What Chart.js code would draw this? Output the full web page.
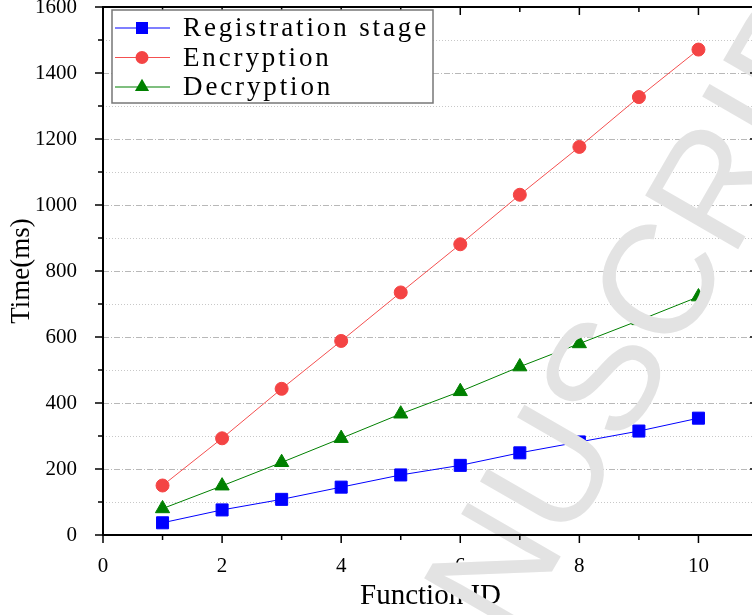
<!DOCTYPE html>
<html>
<head>
<meta charset="utf-8">
<script src="https://cdn.jsdelivr.net/npm/chart.js@4.4.0/dist/chart.umd.min.js"></script>
<style>
html,body{margin:0;padding:0;background:#fff;overflow:hidden}
#wrap{width:762px;height:615px}
</style>
</head>
<body>
<div id="wrap"><canvas id="c" width="762" height="615"></canvas></div>
<script>
// data
const functionIds=[1,2,3,4,5,6,7,8,9,10];
const registration=[37,76,108,145,182,211,249,282,315,354];
const encryption=[150,293,443,588,735,881,1031,1176,1327,1471];
const decryption=[80,149,220,293,367,435,510,580,650,722];
const xTicks=[0,2,4,6,8,10];
const yTicks=[0,200,400,600,800,1000,1200,1400,1600];
const seriesNames=['Registration stage','Encryption','Decryption'];

const pts=arr=>functionIds.map((x,i)=>({x:x,y:arr[i]}));

// grid, frame, ticks, watermark, legend
const decor={
  id:'decor',
  beforeDatasetsDraw(chart){
    const {ctx,chartArea:a,scales:{y}}=chart;
    ctx.save(); ctx.lineWidth=1;
    for(let v=100;v<1600;v+=100){
      const py=Math.round(y.getPixelForValue(v))+0.5;
      if(v%200===0){ctx.strokeStyle='#b8b8b8';ctx.setLineDash([6,2,1,2]);}
      else{ctx.strokeStyle='#c8c8c8';ctx.setLineDash([1,2]);}
      ctx.beginPath(); ctx.moveTo(a.left,py); ctx.lineTo(a.right,py); ctx.stroke();
    }
    ctx.restore();
  },
  afterDatasetsDraw(chart){
    const {ctx,chartArea:a,scales:{x,y}}=chart;
    // watermark
    ctx.save();
    ctx.font='156px "Liberation Sans"';
    ctx.fillStyle='#e3e3e3';
    ctx.translate(655,281); ctx.rotate(-60*Math.PI/180);
    const wm='ACCEPTED MANUSCRIPT';
    const off=ctx.measureText('ACCEPTED MANUS').width+ctx.measureText('C').width/2;
    ctx.textBaseline='alphabetic';
    ctx.fillText(wm,-off,56);
    ctx.restore();

    // frame
    ctx.save();
    ctx.strokeStyle='#000'; ctx.lineWidth=2;
    ctx.strokeRect(a.left,a.top,a.right-a.left,a.bottom-a.top);
    ctx.lineWidth=1.5;
    ctx.beginPath();
    for(let v=0;v<=1600;v+=100){
      const py=y.getPixelForValue(v), len=v%200===0?8:5;
      ctx.moveTo(a.left,py); ctx.lineTo(a.left-len,py);
      ctx.moveTo(a.right,py); ctx.lineTo(a.right-len,py);
    }
    for(let v=0;v<=11;v++){
      const px=x.getPixelForValue(v), len=v%2===0?8:5;
      ctx.moveTo(px,a.bottom); ctx.lineTo(px,a.bottom+len);
      ctx.moveTo(px,a.top); ctx.lineTo(px,a.top+len);
    }
    ctx.stroke();
    ctx.restore();

    // legend
    ctx.save();
    ctx.fillStyle='#fff'; ctx.fillRect(112,10,321,93);
    ctx.strokeStyle='#777'; ctx.lineWidth=1.5; ctx.strokeRect(112,10,321,93);
    ctx.font='27px "Liberation Serif"';
    const w=ctx.measureText(seriesNames[0]).width;
    const ls=Math.max(0,(246-w)/seriesNames[0].length);
    chart.data.datasets.forEach((ds,i)=>{
      const ry=28+i*29.5;
      ctx.strokeStyle=ds.borderColor; ctx.lineWidth=1.2;
      ctx.beginPath(); ctx.moveTo(115,ry); ctx.lineTo(170,ry); ctx.stroke();
      ctx.fillStyle=ds.pointBackgroundColor; ctx.strokeStyle=ds.pointBackgroundColor;
      Chart.helpers.drawPoint(ctx,{pointStyle:ds.pointStyle,radius:ds.pointRadius,borderWidth:0,rotation:0},142,ry);
      ctx.fillStyle='#000'; ctx.textBaseline='middle'; ctx.textAlign='left';
      ctx.letterSpacing=ls+'px';
      ctx.fillText(ds.label,183,ry+1);
    });
    ctx.restore();
  }
};

Chart.defaults.font.family='"Liberation Serif"';
Chart.defaults.color='#000';

new Chart(document.getElementById('c'),{
  type:'line',
  data:{datasets:[
    {label:seriesNames[0],data:pts(registration),borderColor:'#0000ff',backgroundColor:'#0000ff',
     pointBackgroundColor:'#0000ff',pointBorderColor:'#0000ff',pointStyle:'rect',pointRadius:8.5,borderWidth:1},
    {label:seriesNames[1],data:pts(encryption),borderColor:'#f45050',backgroundColor:'#f44444',
     pointBackgroundColor:'#f44444',pointBorderColor:'#f44444',pointStyle:'circle',pointRadius:6.5,borderWidth:1},
    {label:seriesNames[2],data:pts(decryption),borderColor:'#008000',backgroundColor:'#008000',
     pointBackgroundColor:'#008000',pointBorderColor:'#008000',pointStyle:'triangle',pointRadius:8.2,borderWidth:1}
  ]},
  options:{
    responsive:false,animation:false,devicePixelRatio:1,
    layout:{autoPadding:false,padding:{top:7,right:4,left:0,bottom:0}},
    plugins:{legend:{display:false},tooltip:{enabled:false}},
    elements:{line:{tension:0},point:{borderWidth:0}},
    scales:{
      x:{type:'linear',min:0,max:11,
        afterFit(s){s.height=80;s.paddingLeft=0;s.paddingRight=0;},
        afterBuildTicks(s){s.ticks=xTicks.map(v=>({value:v}));},
        grid:{display:false},border:{display:false},
        ticks:{font:{size:21},padding:11,maxRotation:0,callback:v=>String(v)},
        title:{display:true,text:'Function ID',font:{size:29},padding:{top:0,bottom:1}}},
      y:{min:0,max:1600,
        afterFit(s){s.width=103;s.paddingTop=0;s.paddingBottom=0;},
        afterBuildTicks(s){s.ticks=yTicks.map(v=>({value:v}));},
        grid:{display:false},border:{display:false},
        ticks:{font:{size:21},padding:18,callback:v=>String(v)},
        title:{display:true,text:'Time(ms)',font:{size:27},padding:{top:6,bottom:0}}}
    }
  },
  plugins:[decor]
});
</script>
</body>
</html>
